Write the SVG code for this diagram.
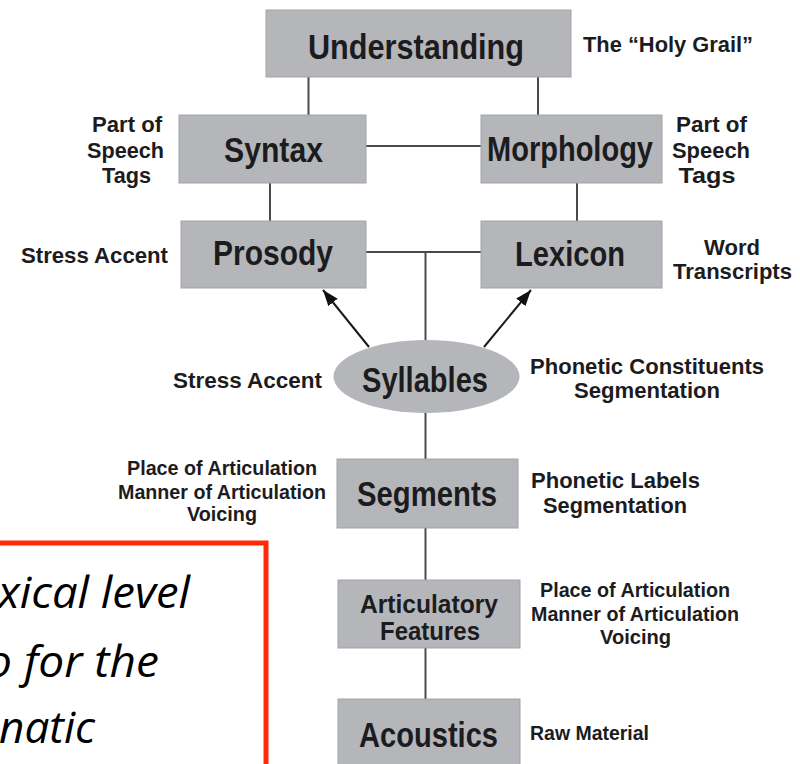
<svg xmlns="http://www.w3.org/2000/svg" width="800" height="764" viewBox="0 0 800 764">
<style>
.box{fill:#b5b6ba;stroke:#a2a3a7;stroke-width:1}
.n{font-family:"Liberation Sans",Arial,sans-serif;font-weight:bold;font-size:35px;fill:#1c1c1e;text-anchor:middle}
.n2{font-family:"Liberation Sans",Arial,sans-serif;font-weight:bold;font-size:25px;fill:#1c1c1e;text-anchor:middle}
.l{font-family:"Liberation Sans",Arial,sans-serif;font-weight:bold;font-size:22px;fill:#1c1c1e;text-anchor:middle}
.s{font-family:"Liberation Sans",Arial,sans-serif;font-weight:bold;font-size:20px;fill:#1c1c1e;text-anchor:middle}
.c{stroke:#4a4a4a;stroke-width:2;fill:none}
.a{stroke:#1a1a1a;stroke-width:2;fill:none}
.it{font-family:"Open Sans","Liberation Sans",sans-serif;font-style:italic;font-size:44px;fill:#000}
</style>
<defs>
<marker id="ah2" viewBox="0 0 16 12" refX="16" refY="6" markerWidth="16" markerHeight="12" markerUnits="userSpaceOnUse" orient="auto">
<path d="M0,0 L16,6 L0,12 z" fill="#111"/>
</marker>
</defs>
<rect width="800" height="764" fill="#fff"/>

<g id="connectors">
<line class="c" x1="308.5" y1="77" x2="308.5" y2="115"/>
<line class="c" x1="538" y1="77" x2="538" y2="115"/>
<line class="c" x1="366" y1="146" x2="481" y2="146"/>
<line class="c" x1="270" y1="183" x2="270" y2="221"/>
<line class="c" x1="577" y1="183" x2="577" y2="221"/>
<line class="c" x1="366" y1="252" x2="481" y2="252"/>
<line class="c" x1="425.5" y1="252" x2="425.5" y2="340"/>
<line class="c" x1="425.5" y1="413" x2="425.5" y2="459"/>
<line class="c" x1="425.5" y1="528" x2="425.5" y2="580"/>
<line class="c" x1="425.5" y1="648" x2="425.5" y2="699"/>
<line class="a" x1="369" y1="347" x2="323" y2="290" marker-end="url(#ah2)"/>
<line class="a" x1="484" y1="347" x2="531" y2="290" marker-end="url(#ah2)"/>
</g>

<g id="understanding">
<rect class="box" x="266" y="10" width="305" height="67"/>
<text class="n" x="416" y="59" textLength="216" lengthAdjust="spacingAndGlyphs">Understanding</text>
</g>
<g id="syntax">
<rect class="box" x="179" y="115" width="187" height="68"/>
<text class="n" x="273.5" y="162" textLength="99" lengthAdjust="spacingAndGlyphs">Syntax</text>
</g>
<g id="morphology">
<rect class="box" x="481" y="115" width="181" height="68"/>
<text class="n" x="570" y="161" textLength="166" lengthAdjust="spacingAndGlyphs">Morphology</text>
</g>
<g id="prosody">
<rect class="box" x="181" y="221" width="185" height="67"/>
<text class="n" x="273" y="265" textLength="120" lengthAdjust="spacingAndGlyphs">Prosody</text>
</g>
<g id="lexicon">
<rect class="box" x="481" y="221" width="181" height="67"/>
<text class="n" x="570" y="266" textLength="110" lengthAdjust="spacingAndGlyphs">Lexicon</text>
</g>
<g id="syllables">
<ellipse cx="426.5" cy="376.5" rx="93" ry="36.5" fill="#b5b6ba"/>
<text class="n" x="425" y="392" textLength="126" lengthAdjust="spacingAndGlyphs">Syllables</text>
</g>
<g id="segments">
<rect class="box" x="337" y="459" width="181" height="69"/>
<text class="n" x="427" y="506" textLength="140" lengthAdjust="spacingAndGlyphs">Segments</text>
</g>
<g id="articulatory">
<rect class="box" x="338" y="580" width="182" height="68"/>
<text class="n2" x="429" y="613" textLength="138" lengthAdjust="spacingAndGlyphs">Articulatory</text>
<text class="n2" x="430" y="640" textLength="100" lengthAdjust="spacingAndGlyphs">Features</text>
</g>
<g id="acoustics">
<rect class="box" x="338" y="699" width="182" height="80"/>
<text class="n" x="428.5" y="747" textLength="139" lengthAdjust="spacingAndGlyphs">Acoustics</text>
</g>

<g id="labels">
<text class="l" x="668" y="52" textLength="170" lengthAdjust="spacingAndGlyphs">The “Holy Grail”</text>
<text class="l" x="127" y="132" textLength="70" lengthAdjust="spacingAndGlyphs">Part of</text>
<text class="l" x="125.5" y="158" textLength="77" lengthAdjust="spacingAndGlyphs">Speech</text>
<text class="l" x="126.5" y="183" textLength="49" lengthAdjust="spacingAndGlyphs">Tags</text>
<text class="l" x="711.5" y="132" textLength="71" lengthAdjust="spacingAndGlyphs">Part of</text>
<text class="l" x="711" y="158" textLength="78" lengthAdjust="spacingAndGlyphs">Speech</text>
<text class="l" x="707" y="183" textLength="57" lengthAdjust="spacingAndGlyphs">Tags</text>
<text class="l" x="94.5" y="263" textLength="147" lengthAdjust="spacingAndGlyphs">Stress Accent</text>
<text class="l" x="732" y="255" textLength="56" lengthAdjust="spacingAndGlyphs">Word</text>
<text class="l" x="732.5" y="279" textLength="119" lengthAdjust="spacingAndGlyphs">Transcripts</text>
<text class="l" x="247.5" y="388" textLength="149" lengthAdjust="spacingAndGlyphs">Stress Accent</text>
<text class="l" x="647" y="374" textLength="234" lengthAdjust="spacingAndGlyphs">Phonetic Constituents</text>
<text class="l" x="647" y="398" textLength="146" lengthAdjust="spacingAndGlyphs">Segmentation</text>
<text class="l" x="615.5" y="488" textLength="169" lengthAdjust="spacingAndGlyphs">Phonetic Labels</text>
<text class="l" x="615" y="513" textLength="144" lengthAdjust="spacingAndGlyphs">Segmentation</text>
<text class="s" x="222" y="475" textLength="190" lengthAdjust="spacingAndGlyphs">Place of Articulation</text>
<text class="s" x="222" y="499" textLength="208" lengthAdjust="spacingAndGlyphs">Manner of Articulation</text>
<text class="s" x="222" y="521" textLength="70" lengthAdjust="spacingAndGlyphs">Voicing</text>
<text class="s" x="635" y="597" textLength="190" lengthAdjust="spacingAndGlyphs">Place of Articulation</text>
<text class="s" x="635" y="621" textLength="208" lengthAdjust="spacingAndGlyphs">Manner of Articulation</text>
<text class="s" x="635.5" y="644" textLength="71" lengthAdjust="spacingAndGlyphs">Voicing</text>
<text class="s" x="589.5" y="740" textLength="119" lengthAdjust="spacingAndGlyphs">Raw Material</text>
</g>

<g id="note">
<rect x="-10" y="543" width="276" height="260" fill="#fff" stroke="#ff2a0a" stroke-width="5"/>
<text class="it" x="-2" y="608" textLength="192" lengthAdjust="spacingAndGlyphs">xical level</text>
<text class="it" x="-14" y="677" textLength="173" lengthAdjust="spacingAndGlyphs">o for the</text>
<text class="it" x="-1" y="743" textLength="96" lengthAdjust="spacingAndGlyphs">natic</text>
</g>
</svg>
